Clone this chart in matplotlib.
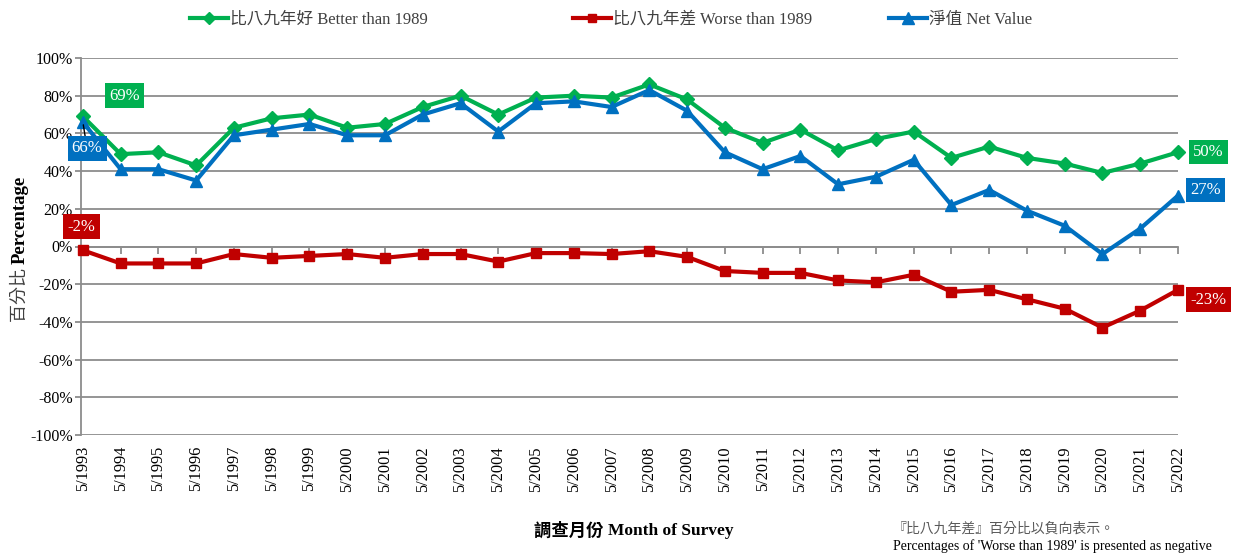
import numpy as np
import matplotlib
matplotlib.use('Agg')
from matplotlib import pyplot as plt
from matplotlib.lines import Line2D

plt.rcParams['font.family'] = ['Liberation Serif', 'Noto Sans CJK TC', 'DejaVu Sans']

years = ['5/%d' % y for y in range(1993, 2023)]
better = [69, 49, 50, 43, 63, 68, 70, 63, 65, 74, 80, 70, 79, 80, 79, 86, 78, 63, 55, 62,
          51, 57, 61, 47, 53, 47, 44, 39, 44, 50]
worse = [-2, -9, -9, -9, -4, -6, -5, -4, -6, -4, -4, -8, -3.5, -3.5, -4, -2.5, -5.5, -13, -14, -14,
         -18, -19, -15, -24, -23, -28, -33, -43, -34, -23]
net = [66, 41, 41, 35, 59, 62, 65, 59, 59, 70, 76, 61, 76, 77, 74, 83, 72, 50, 41, 48,
       33, 37, 46, 22, 30, 19, 11, -4, 9.5, 27]

GREEN = '#00B050'
RED = '#C00000'
BLUE = '#0070C0'
GRID = '#8C8C8C'

fig = plt.figure(figsize=(12.38, 5.53), dpi=100)
ax = fig.add_axes([81 / 1238, 1 - 435 / 553, (1178 - 81) / 1238, (435 - 58) / 553])

x = np.arange(len(years))
ax.plot(x, better, color=GREEN, lw=3, marker='D', ms=7, zorder=4, clip_on=False)
ax.plot(x, worse, color=RED, lw=3, marker='s', ms=7, zorder=4, clip_on=False)
ax.plot(x, net, color=BLUE, lw=3, marker='^', ms=9, zorder=4, clip_on=False)

ax.set_ylim(-100, 100)
ax.set_xlim(-0.05, len(years) - 1)
yt = np.arange(-100, 101, 20)
ax.set_yticks(yt)
ax.set_yticklabels(['%d%%' % v for v in yt], fontsize=11.5)
ax.yaxis.grid(True, color=GRID, lw=1.3)
ax.set_axisbelow(True)
ax.tick_params(axis='y', direction='out', length=4, color=GRID, width=1.3, pad=2)

for s in ['top', 'right']:
    ax.spines[s].set_visible(False)
ax.spines['left'].set_color(GRID)
ax.spines['left'].set_linewidth(1.3)
ax.spines['bottom'].set_position(('data', 0))
ax.spines['bottom'].set_color(GRID)
ax.spines['bottom'].set_linewidth(1.3)
ax.set_xticks(x)
ax.tick_params(axis='x', direction='out', length=5, color=GRID, width=1.3, labelbottom=False)

sec = ax.secondary_xaxis(0)
sec.set_xticks(x)
sec.set_xticklabels(years, rotation=90, fontsize=11.8)
sec.tick_params(length=0, pad=8)
sec.spines['bottom'].set_visible(False)

# data labels
def label(xi, yi, txt, col, dx, dy, leader=False):
    kw = {}
    if leader:
        kw['arrowprops'] = dict(arrowstyle='-', color='black', lw=1, shrinkA=0, shrinkB=2)
    ax.annotate(txt, (xi, yi), xytext=(dx, dy), textcoords='offset points',
                ha='center', va='center', color='white', fontsize=12, zorder=6,
                bbox=dict(boxstyle='square,pad=0.25', fc=col, ec='none'), **kw)

last = len(years) - 1
label(0, better[0], '%d%%' % better[0], GREEN, 30, 15)
label(0, net[0], '%d%%' % net[0], BLUE, 3, -19, leader=True)
label(0, worse[0], '%d%%' % worse[0], RED, -1, 17)
label(last, better[last], '%d%%' % better[last], GREEN, 22, 0)
label(last, net[last], '%d%%' % net[last], BLUE, 20, 4)
label(last, worse[last], '%d%%' % worse[last], RED, 22, -7)

# legend, one entry at a time to match spacing
entries = [
    (Line2D([], [], color=GREEN, lw=3, marker='D', ms=6), '比八九年好 Better than 1989', 190),
    (Line2D([], [], color=RED, lw=3, marker='s', ms=6), '比八九年差 Worse than 1989', 573),
    (Line2D([], [], color=BLUE, lw=3, marker='^', ms=8), '淨值 Net Value', 889),
]
for h, t, px in entries:
    fig.legend([h], [t], loc='center left', bbox_to_anchor=(px / 1238, 1 - 20 / 553),
               frameon=False, fontsize=12, handlelength=2.3, handletextpad=0.1,
               borderaxespad=0, borderpad=0, labelcolor='#404040')

# axis titles
yl_y = 1 - 264 / 553
fig.text(20 / 1238, yl_y, '百分比 ', rotation=90, rotation_mode='anchor',
         ha='right', va='center', fontsize=13, color='#404040')
fig.text(20 / 1238, yl_y, 'Percentage', rotation=90, rotation_mode='anchor',
         ha='left', va='center', fontsize=13.5, fontweight='bold')

fig.text(608 / 1238, 1 - 531 / 553, '調查月份 ', ha='right', va='center',
         fontsize=12.5, fontweight='bold')
fig.text(608 / 1238, 1 - 531 / 553, 'Month of Survey', ha='left', va='center',
         fontsize=12.5, fontweight='bold')

fig.text(893 / 1238, 1 - 529 / 553, '『比八九年差』百分比以負向表示。', ha='left', va='center',
         fontsize=10, color='#595959')
fig.text(893 / 1238, 1 - 546 / 553, "Percentages of 'Worse than 1989' is presented as negative",
         ha='left', va='center', fontsize=10)

fig.savefig('out.png', dpi=100)
